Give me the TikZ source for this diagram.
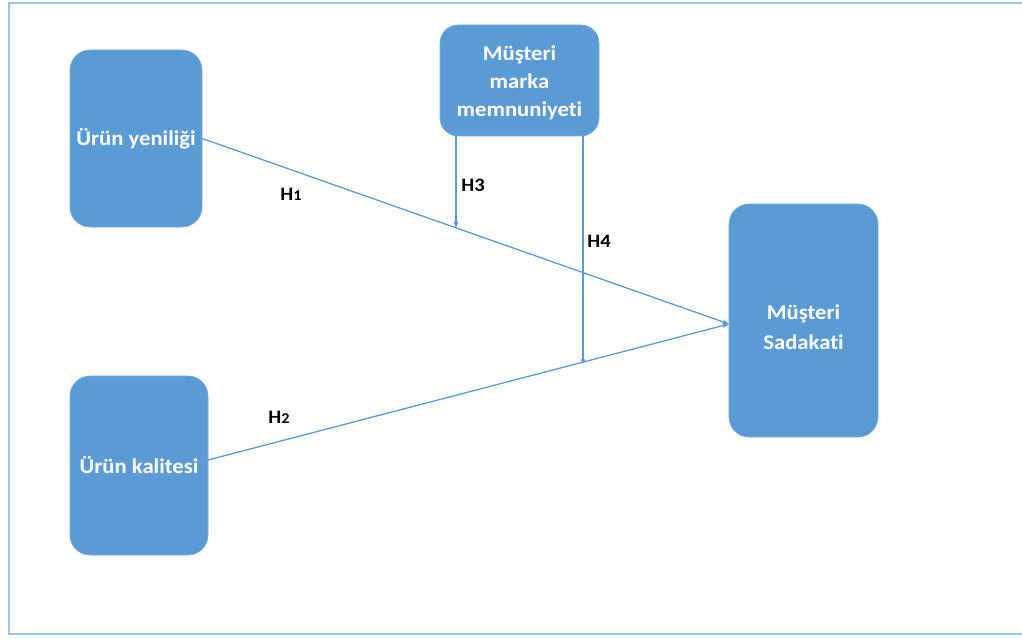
\documentclass[tikz,border=0pt]{standalone}
\usepackage{fontspec}
\setmainfont{Carlito}[FakeStretch=1.08, Ligatures=NoCommon]
\usetikzlibrary{arrows.meta,calc}
\definecolor{boxblue}{HTML}{5B9BD5}
\definecolor{lineblue}{HTML}{5B9BD5}
\definecolor{frameblue}{HTML}{9DC3E6}
\tikzset{
  varbox/.style={fill=boxblue, draw=boxblue!85!white, line width=0.6pt, rounded corners=20pt,
    text=white, font=\fontsize{21}{28}\selectfont\bfseries, align=center, inner sep=0pt},
  boxtext/.style={text=white, font=\fontsize{21}{28}\selectfont\bfseries, align=center, inner sep=0pt},
  link/.style={draw=lineblue, line width=1.3pt, -{Stealth[length=7pt,width=5pt]}},
  hlabel/.style={font=\fontsize{19}{22}\selectfont\bfseries, text=black, inner sep=0pt}
}
\begin{document}
\begin{tikzpicture}[x=1pt,y=-1pt]
\useasboundingbox (0,0) rectangle (1022,639);
\draw[frameblue, line width=2.2pt] (1040,3) -- (9,3) -- (9,634) -- (1040,634);

\node[varbox, minimum width=132pt, minimum height=177pt] (A) at (136,138.5) {Ürün yeniliği};
\node[varbox, minimum width=138pt, minimum height=179pt] (B) at (139,465.5) {Ürün kalitesi};
\node[varbox, rounded corners=18pt, minimum width=159pt, minimum height=111pt] (C) at (519.5,80.5) {};
\node[boxtext] (Ct) at (519.5,83) {Müşteri\\marka\\memnuniyeti};
\node[varbox, minimum width=149pt, minimum height=233pt] (D) at (803.5,320.5) {};
\node[boxtext, font=\fontsize{21}{30}\selectfont\bfseries] (Dt) at (803.5,327) {Müşteri\\Sadakati};

\coordinate (t) at (729,324);
\coordinate (bs) at (208,460);
\coordinate (m3) at (456,228.2);
\coordinate (m4) at (583,362.1);

\draw[link] (A.east) -- (t);
\draw[link] (bs) -- (t);
\draw[link] (C.south -| m3) -- (m3);
\draw[link, -{Circle[length=4pt]}] (C.south -| m4) -- (m4);

\node[hlabel] (h1) at (291,194) {H{\fontsize{15}{17}\selectfont 1}};
\node[hlabel] (h2) at (279,417) {H{\fontsize{15}{17}\selectfont 2}};
\node[hlabel] (h3) at (473,185) {H3};
\node[hlabel] (h4) at (599,241) {H4};
\end{tikzpicture}
\end{document}
